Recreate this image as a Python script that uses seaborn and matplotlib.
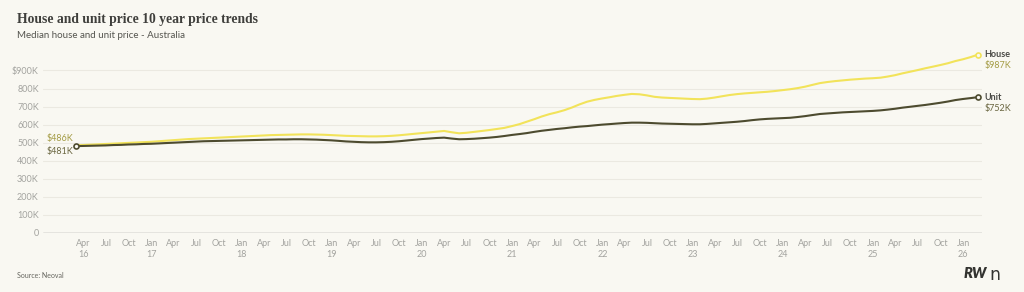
import matplotlib
matplotlib.use("Agg")
import matplotlib.pyplot as plt
import seaborn as sns
import pandas as pd
import numpy as np

# ---------------- data (thousands AUD) ----------------
start_month = "2016-02-29"
house_k = [486, 487, 489, 491, 493, 495, 497, 499, 501, 503, 505,
           508, 511, 514, 517, 520, 522, 524, 526, 528, 530, 532, 534,
           536, 538, 540, 542, 543, 544, 545, 546, 546, 545, 544, 542,
           540, 538, 537, 536, 535, 535, 536, 538, 541, 545, 549, 553,
           557, 561, 565, 558, 552, 555, 560, 565, 570, 576, 582, 592,
           603, 616, 630, 645, 658, 668, 680, 695, 712, 727, 737, 745,
           752, 759, 765, 770, 768, 762, 754, 750, 748, 746, 744, 742,
           741, 744, 750, 757, 764, 769, 773, 776, 779, 782, 786, 791,
           796, 802, 810, 820, 830, 836, 841, 845, 849, 852, 855, 857,
           860, 866, 874, 884, 893, 902, 912, 921, 930, 940, 952, 962,
           974, 987]
unit_k = [481, 482, 483, 484, 485, 487, 488, 490, 491, 493, 494,
          496, 498, 500, 502, 504, 506, 508, 509, 510, 511, 512, 513,
          514, 515, 516, 517, 518, 518, 519, 519, 518, 517, 515, 513,
          510, 507, 505, 503, 502, 502, 503, 505, 508, 512, 516, 520,
          523, 526, 528, 523, 519, 520, 522, 525, 528, 532, 537, 543,
          548, 553, 560, 566, 571, 576, 580, 585, 589, 592, 596, 600,
          603, 606, 609, 611, 611, 610, 608, 606, 605, 604, 603, 602,
          602, 604, 607, 610, 613, 616, 620, 625, 629, 632, 634, 636,
          638, 642, 647, 653, 659, 662, 665, 668, 670, 672, 674, 676,
          679, 683, 688, 694, 699, 704, 709, 715, 721, 728, 736, 742,
          747, 752]
series_names = ["House", "Unit"]
y_ticks_k = [0, 100, 200, 300, 400, 500, 600, 700, 800, 900]
y_tick_labels = ["0", "100K", "200K", "300K", "400K", "500K", "600K", "700K", "800K", "$900K"]

title = "House and unit price 10 year price trends"
subtitle = "Median house and unit price - Australia"
source = "Source: Neoval"

# ---------------- styling ----------------
BG = "#f9f8f2"
HOUSE_C = "#f2e35a"
UNIT_C = "#4d4b2f"
HOUSE_TXT = "#a49c45"
UNIT_TXT = "#6a6640"
GRID_C = "#ebe9e1"
TICK_C = "#a3a39f"

sns.set_theme(style="white")
plt.rcParams["font.family"] = ["Lato", "DejaVu Sans"]

dates = pd.date_range(start_month, periods=len(house_k), freq="ME")
df = pd.DataFrame({
    "date": np.concatenate([dates, dates]),
    "value": np.array(house_k + unit_k, dtype=float),
    "series": [series_names[0]] * len(house_k) + [series_names[1]] * len(unit_k),
})

fig = plt.figure(figsize=(10.24, 2.92), dpi=100, facecolor=BG)
ax = fig.add_axes([43 / 1024, 1 - 233 / 292, (982 - 43) / 1024, (233 - 52.4) / 292])
ax.set_facecolor(BG)

sns.lineplot(data=df, x="date", y="value", hue="series",
             palette={"House": HOUSE_C, "Unit": UNIT_C},
             linewidth=1.5, legend=False, ax=ax, zorder=3)

# end-point markers
ax.scatter([dates[-1]], [house_k[-1]], s=13, facecolor=BG, edgecolor=HOUSE_C,
           linewidth=1.2, zorder=5)
ax.scatter([dates[0], dates[-1]], [unit_k[0], unit_k[-1]], s=13, facecolor=BG,
           edgecolor=UNIT_C, linewidth=1.2, zorder=6)

ax.set_xlim(pd.Timestamp("2015-10-20"), pd.Timestamp("2026-03-18"))
ax.set_ylim(0, 1000)
ax.set_yticks(y_ticks_k)
ax.set_yticklabels(y_tick_labels)
ax.grid(axis="y", color=GRID_C, linewidth=0.8, zorder=0)
ax.grid(axis="x", visible=False)
ax.axhline(0, color="#9a9a96", linewidth=1.0, zorder=2)
for s in ax.spines.values():
    s.set_visible(False)

xt = pd.date_range("2016-04-01", "2026-01-01", freq="QS-JAN")
xlabels = []
for i, d in enumerate(xt):
    m = d.strftime("%b")
    if d.month == 1 or i == 0:
        xlabels.append(f"{m}\n{d.strftime('%y')}")
    else:
        xlabels.append(m)
ax.set_xticks(xt)
ax.set_xticklabels(xlabels, linespacing=1.35)
ax.tick_params(axis="x", length=0, pad=4, labelsize=6.5, labelcolor=TICK_C)
ax.tick_params(axis="y", length=0, pad=3, labelsize=6.5, labelcolor=TICK_C)
ax.set_xlabel("")
ax.set_ylabel("")

# start labels
ax.annotate(f"${house_k[0]}K", (dates[0], house_k[0]), xytext=(-21, 5),
            textcoords="offset points", fontsize=6.5, color=HOUSE_TXT, va="center")
ax.annotate(f"${unit_k[0]}K", (dates[0], unit_k[0]), xytext=(-21, -4),
            textcoords="offset points", fontsize=6.5, color=UNIT_TXT, va="center")
# end labels
ax.annotate("House", (dates[-1], house_k[-1]), xytext=(5, 0), textcoords="offset points",
            fontsize=6.5, color="#4a4a46", va="center", fontweight="bold", annotation_clip=False)
ax.annotate(f"${house_k[-1]}K", (dates[-1], house_k[-1]), xytext=(5, -8), textcoords="offset points",
            fontsize=6.5, color=HOUSE_TXT, va="center", annotation_clip=False)
ax.annotate("Unit", (dates[-1], unit_k[-1]), xytext=(5, 0), textcoords="offset points",
            fontsize=6.5, color="#4a4a46", va="center", fontweight="bold", annotation_clip=False)
ax.annotate(f"${unit_k[-1]}K", (dates[-1], unit_k[-1]), xytext=(5, -8), textcoords="offset points",
            fontsize=6.5, color=UNIT_TXT, va="center", annotation_clip=False)

fig.text(17 / 1024, 1 - 19 / 292, title, fontsize=9.8, fontweight="bold",
         family=["Liberation Serif", "DejaVu Serif"], color="#3f3f3c", va="center")
fig.text(17 / 1024, 1 - 35 / 292, subtitle, fontsize=7, color="#55554f", va="center")
fig.text(17 / 1024, 1 - 276 / 292, source, fontsize=5, color="#66665f", va="center")
fig.text(964 / 1024, 1 - 274 / 292, "RW", fontsize=10.5, fontweight="heavy", style="italic",
         color="#333330", va="center")
fig.text(989 / 1024, 1 - 274.5 / 292, "n", fontsize=12.5, fontweight="normal",
         family=["DejaVu Sans"], color="#333330", va="center")

fig.savefig("out.png", dpi=100, facecolor=BG)
